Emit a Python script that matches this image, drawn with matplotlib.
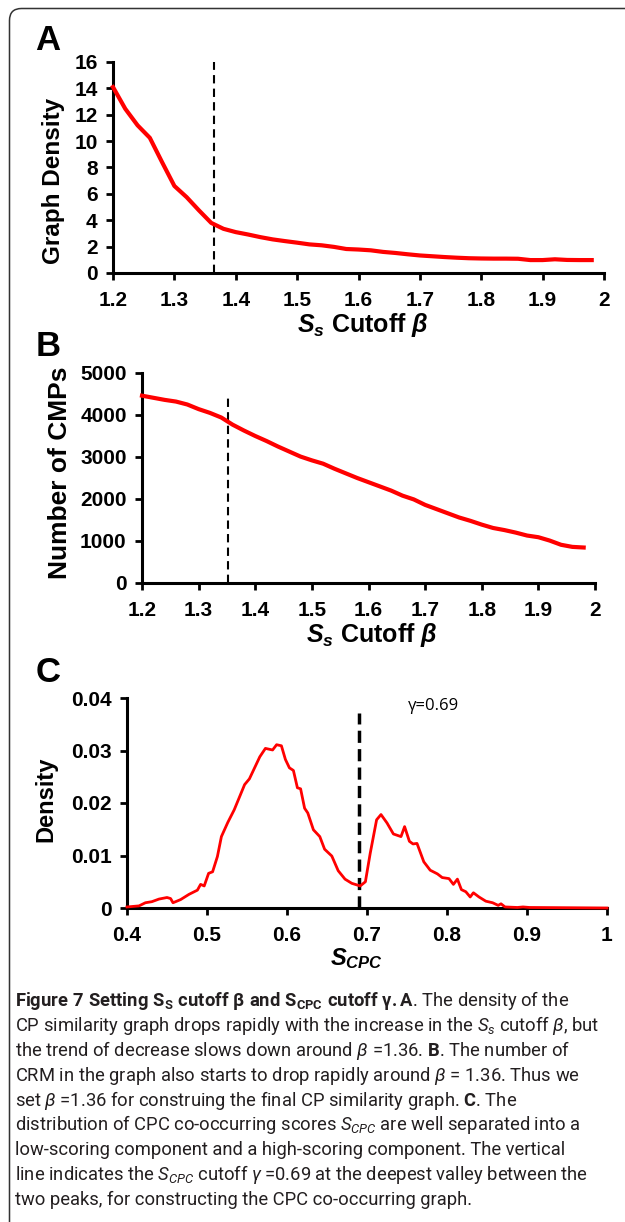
import matplotlib
matplotlib.use("Agg")
import matplotlib.pyplot as plt
from matplotlib import font_manager
from matplotlib.patches import PathPatch
from matplotlib.path import Path

# ---- data ----
beta = [1.20, 1.22, 1.24, 1.26, 1.28, 1.30, 1.32, 1.34, 1.36, 1.38,
        1.40, 1.42, 1.44, 1.46, 1.48, 1.50, 1.52, 1.54, 1.56, 1.58,
        1.60, 1.62, 1.64, 1.66, 1.68, 1.70, 1.72, 1.74, 1.76, 1.78,
        1.80, 1.82, 1.84, 1.86, 1.88, 1.90, 1.92, 1.94, 1.96, 1.98]
graph_density = [14.1, 12.45, 11.2, 10.25, 8.4, 6.6, 5.75, 4.75, 3.8, 3.35,
                 3.1, 2.92, 2.72, 2.55, 2.42, 2.3, 2.17, 2.1, 1.98, 1.82,
                 1.78, 1.72, 1.6, 1.52, 1.42, 1.33, 1.27, 1.21, 1.16, 1.12,
                 1.1, 1.09, 1.09, 1.08, 0.98, 0.98, 1.04, 0.99, 0.98, 0.98]
n_cmps = [4460, 4410, 4360, 4320, 4250, 4140, 4050, 3940, 3770, 3630,
          3500, 3380, 3250, 3130, 3010, 2920, 2840, 2720, 2610, 2500,
          2400, 2300, 2200, 2080, 1990, 1860, 1760, 1660, 1560, 1480,
          1390, 1310, 1260, 1200, 1130, 1090, 1010, 910, 860, 845]
cut_a, cut_a_top = 1.365, 16
cut_b, cut_b_top = 1.352, 4400

s_cpc = [0.400, 0.415, 0.423, 0.431, 0.440, 0.450, 0.4545, 0.4575, 0.467, 0.4775,
         0.488, 0.492, 0.4965, 0.502, 0.507, 0.513, 0.518, 0.526, 0.534, 0.547,
         0.553, 0.566, 0.573, 0.582, 0.587, 0.593, 0.598, 0.603, 0.608, 0.613,
         0.617, 0.622, 0.626, 0.633, 0.641, 0.647, 0.656, 0.664, 0.6725, 0.681,
         0.6915, 0.698, 0.704, 0.712, 0.7175, 0.725, 0.733, 0.7425, 0.747, 0.753,
         0.7575, 0.7625, 0.771, 0.779, 0.788, 0.794, 0.8025, 0.808, 0.813, 0.818,
         0.8235, 0.829, 0.833, 0.840, 0.8485, 0.857, 0.864, 0.8675, 0.8725, 0.888,
         0.895, 0.903, 1.0]
density = [0.0002, 0.0004, 0.0010, 0.0012, 0.0017, 0.0020, 0.0018, 0.0010, 0.0016, 0.0026,
           0.0034, 0.0045, 0.0042, 0.0066, 0.0069, 0.0098, 0.0136, 0.0163, 0.0187, 0.0235,
           0.0246, 0.0288, 0.0304, 0.0301, 0.0311, 0.0309, 0.0283, 0.0267, 0.0262, 0.0229,
           0.0227, 0.0190, 0.0181, 0.0149, 0.0136, 0.0112, 0.0099, 0.0071, 0.0055, 0.0047,
           0.0042, 0.0050, 0.0104, 0.0168, 0.0178, 0.0162, 0.0141, 0.0136, 0.0155, 0.0127,
           0.0122, 0.0123, 0.0088, 0.0072, 0.0065, 0.0058, 0.0056, 0.0045, 0.0055, 0.0035,
           0.0031, 0.0021, 0.0029, 0.0021, 0.0013, 0.0010, 0.0005, 0.0008, 0.0002, 0.0001,
           0.0002, 0.0001, 0.0]
gamma, gamma_top = 0.69, 0.0371

beta_ticks = [1.2, 1.3, 1.4, 1.5, 1.6, 1.7, 1.8, 1.9, 2.0]
beta_labels = ["1.2", "1.3", "1.4", "1.5", "1.6", "1.7", "1.8", "1.9", "2"]
dens_ticks = [0, 2, 4, 6, 8, 10, 12, 14, 16]
cmp_ticks = [0, 1000, 2000, 3000, 4000, 5000]
cpc_ticks = [0.4, 0.5, 0.6, 0.7, 0.8, 0.9, 1.0]
cpc_labels = ["0.4", "0.5", "0.6", "0.7", "0.8", "0.9", "1"]
cdens_ticks = [0, 0.01, 0.02, 0.03, 0.04]
cdens_labels = ["0", "0.01", "0.02", "0.03", "0.04"]

caption = [
    r"$\mathbf{Figure\ 7\ Setting\ S_S\ cutoff\ β\ and\ S_{CPC}\ cutoff\ γ.A}$. The density of the",
    r"CP similarity graph drops rapidly with the increase in the $S_s$ cutoff $β$, but",
    r"the trend of decrease slows down around $β$ =1.36. $\mathbf{B}$. The number of",
    r"CRM in the graph also starts to drop rapidly around $β$ = 1.36. Thus we",
    r"set $β$ =1.36 for construing the final CP similarity graph. $\mathbf{C}$. The",
    r"distribution of CPC co-occurring scores $S_{CPC}$ are well separated into a",
    r"low-scoring component and a high-scoring component. The vertical",
    r"line indicates the $S_{CPC}$ cutoff $γ$ =0.69 at the deepest valley between the",
    r"two peaks, for constructing the CPC co-occurring graph.",
]

# ---- fonts ----
cap_font = "Open Sans"
for name in ["Liberation Sans Narrow", "Roboto"]:
    try:
        font_manager.findfont(font_manager.FontProperties(family=name),
                              fallback_to_default=False)
        cap_font = name
        break
    except ValueError:
        pass

plt.rcParams["font.family"] = ["Liberation Sans", "DejaVu Sans"]
plt.rcParams["font.weight"] = "bold"
plt.rcParams["axes.labelweight"] = "bold"
plt.rcParams["mathtext.fontset"] = "custom"
plt.rcParams["mathtext.rm"] = f"{cap_font}:weight=normal"
plt.rcParams["mathtext.it"] = f"{cap_font}:style=italic:weight=normal"
plt.rcParams["mathtext.bf"] = f"{cap_font}:weight=bold"
plt.rcParams["mathtext.bfit"] = "Liberation Sans:style=italic:weight=bold"

W, H = 625, 1222
fig = plt.figure(figsize=(W / 100, H / 100), dpi=100)

# frame: open on the right and bottom, rounded top-left corner
bg = fig.add_axes([0, 0, 1, 1], zorder=-1)
bg.set_xlim(0, W)
bg.set_ylim(H, 0)
bg.axis("off")
r = 12
frame = Path([(9.5, H + 20), (9.5, 8.5 + r), (9.5, 8.5), (9.5 + r, 8.5), (W + 20, 8.5)],
             [Path.MOVETO, Path.LINETO, Path.CURVE3, Path.CURVE3, Path.LINETO])
bg.add_patch(PathPatch(frame, fill=False, ec="#333333", lw=1.1))


def px_axes(left, top, right, bottom):
    return fig.add_axes([left / W, 1 - bottom / H, (right - left) / W, (bottom - top) / H])


def style(ax):
    for s in ["top", "right"]:
        ax.spines[s].set_visible(False)
    for s in ["left", "bottom"]:
        ax.spines[s].set_linewidth(2.2)
    ax.tick_params(direction="out", length=5, width=2, labelsize=15)
    ax.tick_params(axis="x", pad=8)
    ax.tick_params(axis="y", pad=6)


# ---- A ----
ax = px_axes(113, 62, 604, 273)
ax.plot(beta, graph_density, color="#ff0000", lw=3, clip_on=False, zorder=5)
ax.plot([cut_a, cut_a], [0, cut_a_top], color="black", lw=1.5, dashes=(4, 2.5))
ax.set_xlim(1.2, 2.0)
ax.set_ylim(0, 16)
ax.set_xticks(beta_ticks, beta_labels)
ax.set_yticks(dens_ticks)
style(ax)
ax.set_ylabel("Graph Density", fontsize=17.5, fontweight="bold", va="center")
ax.yaxis.set_label_coords(-0.122, 0.436)
ax.set_xlabel(r"$\mathbfit{S_s}$ Cutoff $\mathbfit{β}$", fontsize=18, fontweight="bold", va="center")
ax.xaxis.set_label_coords(0.509, -0.246)
fig.text(35 / W, 1 - 50 / H, "A", fontsize=25, ha="left", va="baseline")

# ---- B ----
ax = px_axes(142, 373, 595, 583)
ax.plot(beta, n_cmps, color="#ff0000", lw=3, clip_on=False, zorder=5)
ax.plot([cut_b, cut_b], [0, cut_b_top], color="black", lw=1.5, dashes=(4, 2.5))
ax.set_xlim(1.2, 2.0)
ax.set_ylim(0, 5000)
ax.set_xticks(beta_ticks, beta_labels)
ax.set_yticks(cmp_ticks)
style(ax)
ax.set_ylabel("Number of CMPs", fontsize=19, fontweight="bold", va="center")
ax.yaxis.set_label_coords(-0.18, 0.524)
ax.set_xlabel(r"$\mathbfit{S_s}$ Cutoff $\mathbfit{β}$", fontsize=18, fontweight="bold", va="center")
ax.xaxis.set_label_coords(0.508, -0.248)
fig.text(36 / W, 1 - 356 / H, "B", fontsize=25, ha="left", va="baseline")

# ---- C ----
ax = px_axes(127, 698, 607, 908)
ax.plot(s_cpc, density, color="#ff0000", lw=2, clip_on=False, zorder=5)
ax.plot([gamma, gamma], [0, gamma_top], color="black", lw=2.5, dashes=(3.5, 1.8))
ax.text(0.783, 0.0384, "γ=0.69", fontsize=12, family="Open Sans", fontweight="normal",
        ha="center", va="center")
ax.set_xlim(0.4, 1.0)
ax.set_ylim(0, 0.04)
ax.set_xticks(cpc_ticks, cpc_labels)
ax.set_yticks(cdens_ticks, cdens_labels)
style(ax)
ax.set_ylabel("Density", fontsize=17, fontweight="bold", va="center")
ax.yaxis.set_label_coords(-0.169, 0.519)
ax.set_xlabel(r"$\mathbfit{S_{CPC}}$", fontsize=17, va="center")
ax.xaxis.set_label_coords(0.479, -0.24)
fig.text(36 / W, 1 - 682 / H, "C", fontsize=25, ha="left", va="baseline")

# ---- caption ----
texts = []
for i, line in enumerate(caption):
    t = fig.text(15 / W, 1 - (1006 + 24.9 * i) / H, line, fontsize=12, family=cap_font,
                 fontweight="normal", color="#231f20", ha="left", va="baseline")
    texts.append(t)
fig.canvas.draw()
w = texts[1].get_window_extent(fig.canvas.get_renderer()).width
size = 12 * 582 / w
for t in texts:
    t.set_fontsize(size)

fig.savefig("out.png", dpi=100)
